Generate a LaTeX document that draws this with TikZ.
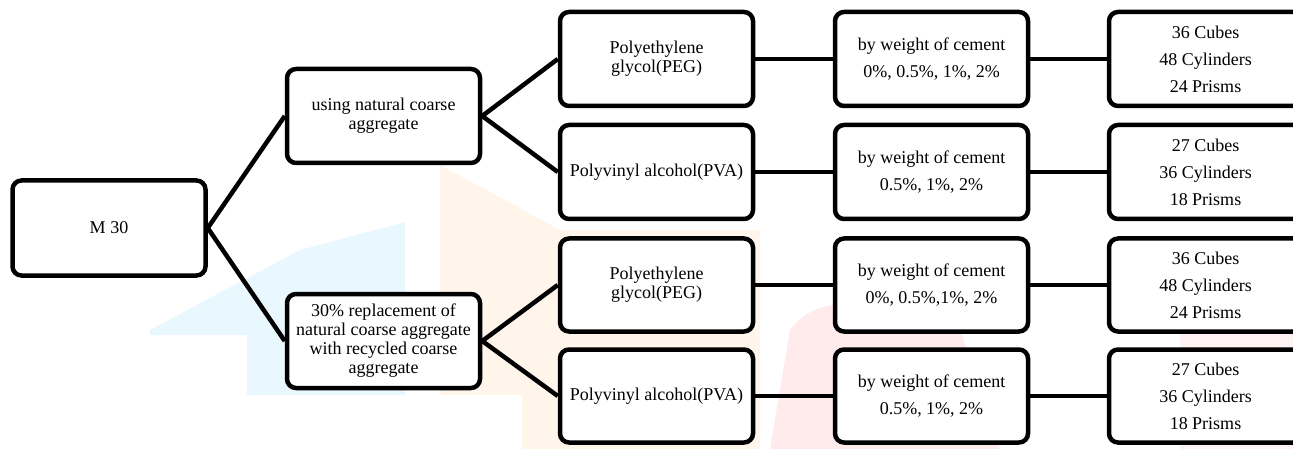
\documentclass[tikz,border=0pt]{standalone}
\usepackage{fontspec}
\setmainfont{Liberation Serif}
\newfontfamily\tnr{Liberation Serif}
\begin{document}
\begin{tikzpicture}[x=1pt,y=-1pt,
  box/.style={draw=black,line width=4.5pt,rounded corners=9pt,fill=white,
    minimum width=193pt,minimum height=95pt,align=center,inner sep=2pt,
    font=\tnr\fontsize{18}{19}\selectfont},
  tallbox/.style={box,font=\tnr\fontsize{18}{27}\selectfont},
  link/.style={line width=4.5pt}]
\useasboundingbox (0,0) rectangle (1293,449);
\clip (0,0) rectangle (1293,449);
% faint watermark
\fill[cyan!9] (150,330) -- (300,250) -- (405,222) -- (405,395) -- (247,395) -- (247,335) -- (150,335) -- cycle;
\fill[orange!8] (440,165) -- (560,230) -- (760,230) -- (760,449) -- (522,449) -- (522,395) -- (440,395) -- cycle;
\fill[red!8] (790,330) .. controls (820,290) and (880,300) .. (960,330) -- (1000,449) -- (770,449) -- cycle;
\fill[red!5] (1180,300) -- (1293,330) -- (1293,449) -- (1180,449) -- cycle;
% nodes
\node[box] (m30) at (109,228) {M 30};
\node[box,minimum height=94pt] (nat) at (383.5,116) {using natural coarse\\aggregate};
\node[box,minimum height=94pt] (rec) at (383.5,341) {30\% replacement of\\natural coarse aggregate\\with recycled coarse\\aggregate};
\node[box,minimum height=94pt] (peg1) at (656.5,59) {Polyethylene\\glycol(PEG)};
\node[box,minimum height=94pt] (pva1) at (656.5,172) {Polyvinyl alcohol(PVA)};
\node[box,minimum height=93pt] (peg2) at (656.5,285) {Polyethylene\\glycol(PEG)};
\node[box,minimum height=93pt] (pva2) at (656.5,396) {Polyvinyl alcohol(PVA)};
\node[tallbox,minimum height=94pt] (w1) at (931.5,59) {by weight of cement\\0\%, 0.5\%, 1\%, 2\%};
\node[tallbox,minimum height=94pt] (w2) at (931.5,172) {by weight of cement\\0.5\%, 1\%, 2\%};
\node[tallbox,minimum height=93pt] (w3) at (931.5,285) {by weight of cement\\0\%, 0.5\%,1\%, 2\%};
\node[tallbox,minimum height=93pt] (w4) at (931.5,396) {by weight of cement\\0.5\%, 1\%, 2\%};
\node[tallbox,minimum height=94pt] (r1) at (1205.5,59) {36 Cubes\\48 Cylinders\\24 Prisms};
\node[tallbox,minimum height=94pt] (r2) at (1205.5,172) {27 Cubes\\36 Cylinders\\18 Prisms};
\node[tallbox,minimum height=93pt] (r3) at (1205.5,285) {36 Cubes\\48 Cylinders\\24 Prisms};
\node[tallbox,minimum height=93pt] (r4) at (1205.5,396) {27 Cubes\\36 Cylinders\\18 Prisms};
% connectors
\draw[link] (m30.east) -- (nat.west);
\draw[link] (m30.east) -- (rec.west);
\draw[link] (nat.east) -- (peg1.west);
\draw[link] (nat.east) -- (pva1.west);
\draw[link] (rec.east) -- (peg2.west);
\draw[link] (rec.east) -- (pva2.west);
\draw[link] (peg1.east) -- (w1.west);
\draw[link] (pva1.east) -- (w2.west);
\draw[link] (peg2.east) -- (w3.west);
\draw[link] (pva2.east) -- (w4.west);
\draw[link] (w1.east) -- (r1.west);
\draw[link] (w2.east) -- (r2.west);
\draw[link] (w3.east) -- (r3.west);
\draw[link] (w4.east) -- (r4.west);
\end{tikzpicture}
\end{document}
